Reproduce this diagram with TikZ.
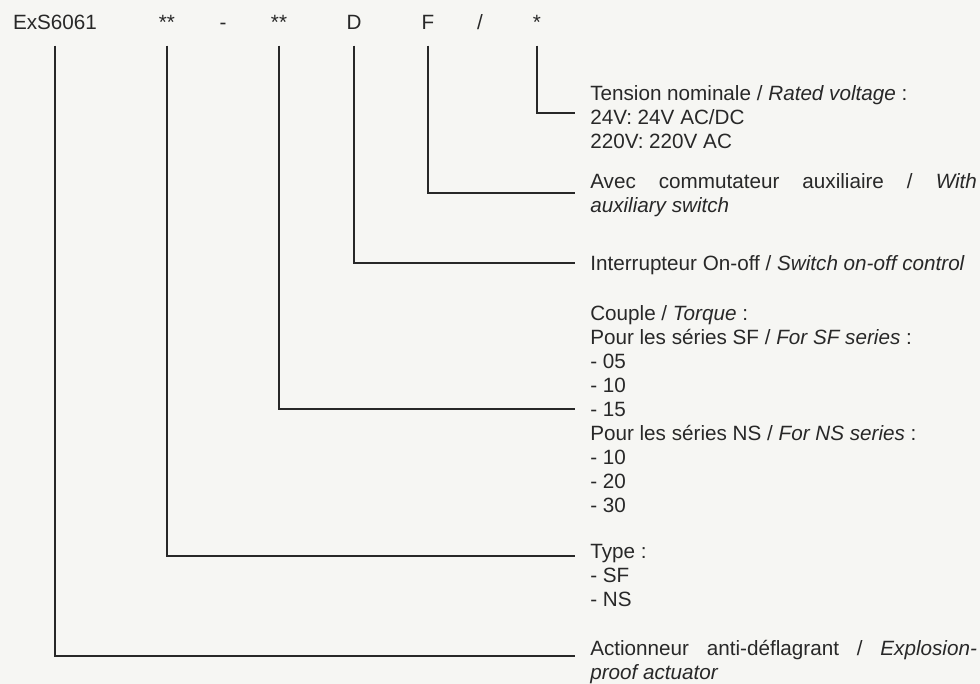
\documentclass[tikz,border=0pt]{standalone}
\usepackage{fontspec}
\setmainfont{Liberation Sans}
\definecolor{ink}{RGB}{40,40,40}
\definecolor{paper}{RGB}{246,246,243}
\begin{document}
\begin{tikzpicture}[x=0.75pt,y=-0.75pt,
  font=\fontsize{15.5}{18}\selectfont,
  hd/.style={inner sep=0pt, text height=11pt, text depth=3pt, text=ink},
  desc/.style={anchor=north west, inner sep=0pt, text width=290pt, align=justify, text=ink},
  conn/.style={draw=ink, line width=1pt}]
\fill[paper] (0,0) rectangle (980,684);
\useasboundingbox (0,0) rectangle (980,684);
% header
\node[hd] (hA) at (55,24) {ExS6061};
\node[hd] (hB) at (167,24) {**};
\node[hd] (hdash) at (223,24) {-};
\node[hd] (hC) at (279,24) {**};
\node[hd] (hD) at (354,24) {D};
\node[hd] (hE) at (428,24) {F};
\node[hd] (hslash) at (480,24) {/};
\node[hd] (hF) at (537,24) {*};
% descriptions
\node[desc] (dF) at (590,83.7) {\strut Tension nominale / \textit{Rated voltage} :\\24V: 24V AC/DC\\220V: 220V AC};
\node[desc] (dE) at (590,171.7) {\strut Avec commutateur auxiliaire / \textit{With\linebreak auxiliary switch}};
\node[desc] (dD) at (590,253.7) {\strut Interrupteur On-off / \textit{Switch on-off control}};
\node[desc] (dC) at (590,303.7) {\strut Couple / \textit{Torque} :\\Pour les séries SF / \textit{For SF series} :\\- 05\\- 10\\- 15\\Pour les séries NS / \textit{For NS series} :\\- 10\\- 20\\- 30};
\node[desc] (dB) at (590,541.7) {\strut Type :\\- SF\\- NS};
\node[desc] (dA) at (590,638.7) {\strut Actionneur anti-déflagrant / \textit{Explosion-\linebreak proof actuator}};
% line ends
\coordinate (eF) at (575,113);
\coordinate (eE) at (575,193);
\coordinate (eD) at (575,263);
\coordinate (eC) at (575,409);
\coordinate (eB) at (575,556);
\coordinate (eA) at (575,656);
\draw[conn] ([yshift=-9pt]hF.south) |- (eF);
\draw[conn] ([yshift=-9pt]hE.south) |- (eE);
\draw[conn] ([yshift=-9pt]hD.south) |- (eD);
\draw[conn] ([yshift=-9pt]hC.south) |- (eC);
\draw[conn] ([yshift=-9pt]hB.south) |- (eB);
\draw[conn] ([yshift=-9pt]hA.south) |- (eA);
\end{tikzpicture}
\end{document}
